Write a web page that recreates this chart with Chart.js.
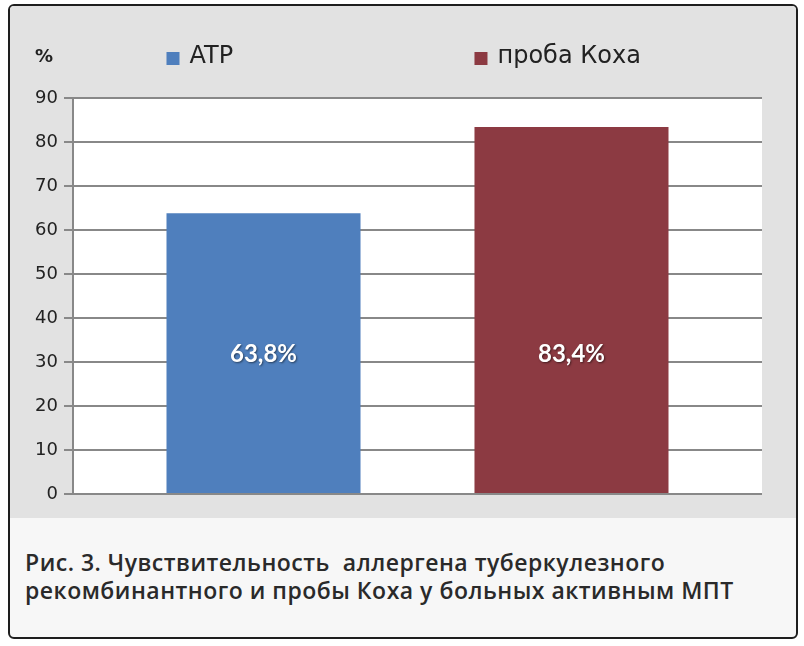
<!DOCTYPE html>
<html>
<head>
<meta charset="utf-8">
<script src="https://cdn.jsdelivr.net/npm/chart.js@4.4.1/dist/chart.umd.min.js"></script>
<style>
  html, body { margin: 0; padding: 0; background: #ffffff; }
  #frame {
    position: absolute; left: 8px; top: 4px; width: 786px; height: 631px;
    border: 2px solid #1e1e1e; border-radius: 6px; background: #f7f7f7; overflow: hidden;
  }
  #panel {
    position: absolute; left: 0; top: 0; width: 786px; height: 512px; background: #e2e2e2;
  }
  #chart { position: absolute; left: 0; top: 0; }
  #caption {
    position: absolute; left: 25px; top: 548px;
    font-family: "Open Sans", Roboto, sans-serif; font-weight: 600;
    font-size: 23px; line-height: 28px; color: #2a2a2a; white-space: pre;
    letter-spacing: 0.5px;
  }
</style>
</head>
<body>
<div id="frame"><div id="panel"></div></div>
<canvas id="chart" width="804" height="518"></canvas>
<div id="caption">Рис. 3. Чувствительность  аллергена туберкулезного
рекомбинантного и пробы Коха у больных активным МПТ</div>
<script>
// data
const seriesNames = ['ATP', 'проба Коха'];
const seriesValues = [63.8, 83.4];
const seriesColors = ['#4f7fbd', '#8c3a42'];
const yTicks = [0, 10, 20, 30, 40, 50, 60, 70, 80, 90];
const axisUnit = '%';

const plotBackground = {
  id: 'plotBackground',
  beforeDraw(chart) {
    const { ctx, chartArea } = chart;
    ctx.save();
    ctx.fillStyle = '#ffffff';
    ctx.fillRect(chartArea.left, chartArea.top, chartArea.right - chartArea.left, chartArea.bottom - chartArea.top);
    ctx.restore();
  }
};

// legend squares sit above the left edge of each bar, values written inside the bars
const extras = {
  id: 'extras',
  afterDraw(chart) {
    const { ctx } = chart;
    const y = chart.scales.y;
    ctx.save();
    chart.data.datasets.forEach((ds, i) => {
      const bar = chart.getDatasetMeta(i).data[0];
      const left = bar.x - bar.width / 2;
      ctx.fillStyle = ds.backgroundColor;
      ctx.fillRect(left, 52, 13, 13);
      ctx.fillStyle = '#222';
      ctx.font = '24px "DejaVu Sans", sans-serif';
      ctx.textAlign = 'left';
      ctx.textBaseline = 'middle';
      ctx.fillText(ds.label, left + 23, 57);

      ctx.font = 'bold 24px Lato, "DejaVu Sans", sans-serif';
      ctx.textAlign = 'center';
      ctx.shadowColor = 'rgba(0,0,0,0.5)';
      ctx.shadowOffsetX = 1;
      ctx.shadowOffsetY = 1;
      ctx.shadowBlur = 2;
      ctx.fillStyle = '#ffffff';
      ctx.fillText(ds.data[0].toFixed(1).replace('.', ',') + '%', bar.x, y.getPixelForValue(31.7));
      ctx.shadowColor = 'transparent';
    });
    ctx.fillStyle = '#222';
    ctx.font = 'bold 18px "DejaVu Sans", sans-serif';
    ctx.textAlign = 'center';
    ctx.textBaseline = 'middle';
    ctx.fillText(axisUnit, 44, 57);
    ctx.restore();
  }
};

new Chart(document.getElementById('chart'), {
  type: 'bar',
  data: {
    labels: [''],
    datasets: seriesNames.map((name, i) => ({
      label: name,
      data: [seriesValues[i]],
      backgroundColor: seriesColors[i],
      categoryPercentage: 0.894,
      barPercentage: 0.63
    }))
  },
  options: {
    responsive: false,
    animation: false,
    devicePixelRatio: 1,
    layout: { padding: { top: 98, right: 42, bottom: 24, left: 0 } },
    plugins: { legend: { display: false }, tooltip: { enabled: false } },
    scales: {
      x: { display: false },
      y: {
        min: 0,
        max: 90,
        afterFit(scale) { scale.width = 73; },
        afterBuildTicks(scale) { scale.ticks = yTicks.map(v => ({ value: v })); },
        border: { display: true, color: '#888888', width: 2 },
        grid: { color: '#888888', lineWidth: 2, tickLength: 9, drawTicks: true },
        ticks: {
          padding: 6,
          color: '#222',
          font: { family: '"DejaVu Sans", sans-serif', size: 18 }
        }
      }
    }
  },
  plugins: [plotBackground, extras]
});
</script>
</body>
</html>
